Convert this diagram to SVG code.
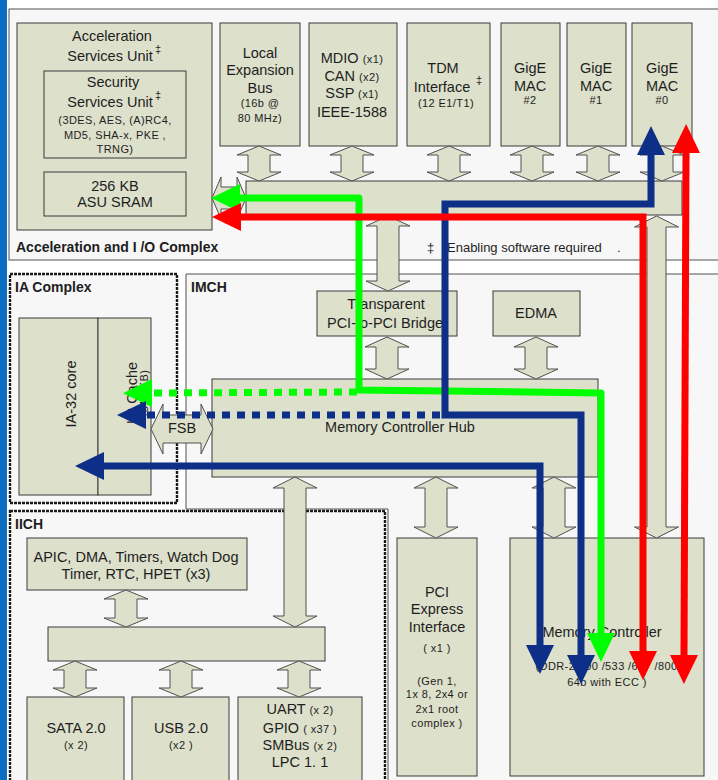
<svg xmlns="http://www.w3.org/2000/svg" width="718" height="780" viewBox="0 0 718 780">
<style>
.cont{fill:#f7f7f7;stroke:#505050;stroke-width:1}
.dotb{fill:#f7f7f7;stroke:#1a1a1a;stroke-width:2.4;stroke-dasharray:3 1}
.box{fill:#dde0cb;stroke:#3a3a3a;stroke-width:1}
.arr{fill:#dde0cb;stroke:#505050;stroke-width:1}
text{font-family:"Liberation Sans",Arial,sans-serif;fill:#1e1e1e;text-anchor:middle}
.m{font-size:14.5px}
.s{font-size:11px;letter-spacing:0.4px}
.b{font-weight:bold;font-size:14px;text-anchor:start}
.l{text-anchor:start}
.g{fill:none;stroke:#00ff00;stroke-width:7}
.n{fill:none;stroke:#0e2f87;stroke-width:7}
.r{fill:none;stroke:#ff0000;stroke-width:7}
</style>
<defs>
<marker id="hg" markerUnits="userSpaceOnUse" viewBox="0 -15 30 30" refX="0" refY="0" markerWidth="30" markerHeight="30" orient="auto-start-reverse"><path d="M0,-14 L29,0 L0,14 Z" fill="#00ff00"/></marker>
<marker id="hn" markerUnits="userSpaceOnUse" viewBox="0 -15 30 30" refX="0" refY="0" markerWidth="30" markerHeight="30" orient="auto-start-reverse"><path d="M0,-14 L29,0 L0,14 Z" fill="#0e2f87"/></marker>
<marker id="hr" markerUnits="userSpaceOnUse" viewBox="0 -15 30 30" refX="0" refY="0" markerWidth="30" markerHeight="30" orient="auto-start-reverse"><path d="M0,-14 L29,0 L0,14 Z" fill="#ff0000"/></marker>
</defs>
<rect x="0" y="0" width="718" height="780" fill="#ffffff"/>
<rect x="0" y="0" width="7" height="780" fill="#0b6dbf"/>

<g id="aio-complex">
<rect class="cont" x="9" y="9" width="720" height="251"/>
<text class="b" x="16" y="252">Acceleration and I /O Complex</text>
<text class="l" x="427" y="252" style="font-size:13px">‡</text>
<text class="l" x="447" y="252" style="font-size:13px">Enabling software required</text>
<text class="l" x="617" y="252" style="font-size:13px">.</text>
</g>
<g id="imch">
<path class="cont" d="M186,274 H720 V784 H388 V509 H186 Z"/>
<text class="b" x="191" y="292">IMCH</text>
</g>
<g id="ia-complex">
<rect class="dotb" x="10" y="274" width="167" height="229"/>
<text class="b" x="15" y="292">IA Complex</text>
</g>
<g id="iich">
<rect class="dotb" x="10" y="511" width="375" height="280"/>
<text class="b" x="15" y="529">IICH</text>
</g>

<g id="asu">
<rect class="box" x="17" y="23" width="195" height="207"/>
<text class="m" x="112" y="41">Acceleration</text>
<text class="m" x="110" y="61">Services Unit</text>
<text class="s l" x="155" y="53">‡</text>
</g>
<g id="ssu">
<rect class="box" x="44" y="71" width="142" height="87"/>
<text class="m" x="113" y="87">Security</text>
<text class="m" x="110" y="107">Services Unit</text>
<text class="s l" x="155" y="99">‡</text>
<text class="s" x="115" y="124">(3DES, AES, (A)RC4,</text>
<text class="s" x="115" y="139">MD5, SHA-x, PKE ,</text>
<text class="s" x="115" y="153">TRNG)</text>
</g>
<g id="asu-sram">
<rect class="box" x="44" y="172" width="142" height="44"/>
<text class="m" x="115" y="191">256  KB</text>
<text class="m" x="115" y="207">ASU SRAM</text>
</g>

<g id="local-bus">
<rect class="box" x="220" y="23" width="80" height="123"/>
<text class="m" x="260" y="58">Local</text>
<text class="m" x="260" y="75">Expansion</text>
<text class="m" x="260" y="93">Bus</text>
<text class="s" x="260" y="107">(16b @</text>
<text class="s" x="260" y="122">80 MHz)</text>
</g>
<g id="mdio">
<rect class="box" x="309" y="23" width="88" height="123"/>
<text x="352" y="63"><tspan class="m">MDIO </tspan><tspan class="s">(x1)</tspan></text>
<text x="352" y="81"><tspan class="m">CAN </tspan><tspan class="s">(x2)</tspan></text>
<text x="352" y="98"><tspan class="m">SSP </tspan><tspan class="s">(x1)</tspan></text>
<text class="m" x="352" y="117">IEEE-1588</text>
</g>
<g id="tdm">
<rect class="box" x="407" y="23" width="83" height="123"/>
<text class="m" x="443" y="73">TDM</text>
<text class="m" x="442" y="92">Interface</text>
<text class="s l" x="476" y="84">‡</text>
<text class="s" x="446" y="107">(12  E1/T1)</text>
</g>
<g id="gige2">
<rect class="box" x="501" y="23" width="59" height="123"/>
<text class="m" x="530" y="73">GigE</text>
<text class="m" x="530" y="91">MAC</text>
<text class="s" x="530" y="104">#2</text>
</g>
<g id="gige1">
<rect class="box" x="567" y="23" width="59" height="123"/>
<text class="m" x="596" y="73">GigE</text>
<text class="m" x="596" y="91">MAC</text>
<text class="s" x="596" y="104">#1</text>
</g>
<g id="gige0">
<rect class="box" x="632" y="23" width="60" height="123"/>
<text class="m" x="662" y="73">GigE</text>
<text class="m" x="662" y="91">MAC</text>
<text class="s" x="662" y="104">#0</text>
</g>

<g id="aio-bus">
<rect class="box" x="246" y="181" width="436" height="34"/>
</g>

<g id="ia32-core">
<rect class="box" x="19" y="318" width="79" height="177"/>
<text class="m" transform="translate(76,394) rotate(-90)" x="0" y="0">IA-32 core</text>
</g>
<g id="l2-cache">
<rect class="box" x="98" y="318" width="53" height="177"/>
<text class="m" transform="translate(137,393) rotate(-90)" x="0" y="0">L2 Cache</text>
<text class="s" transform="translate(148,393) rotate(-90)" x="0" y="0">(512 KB)</text>
</g>

<g id="p2p-bridge">
<rect class="box" x="317" y="291" width="140" height="45"/>
<text class="m" x="386" y="309">Transparent</text>
<text class="m" x="385" y="328">PCI-to-PCI Bridge</text>
</g>
<g id="edma">
<rect class="box" x="493" y="291" width="87" height="45"/>
<text class="m" x="536" y="318">EDMA</text>
</g>
<g id="mch">
<rect class="box" x="212" y="379" width="386" height="98"/>
<text class="m" x="400" y="432">Memory Controller Hub</text>
</g>
<g id="pcie">
<rect class="box" x="397" y="538" width="80" height="238"/>
<text class="m" x="437" y="597">PCI</text>
<text class="m" x="437" y="614">Express</text>
<text class="m" x="437" y="632">Interface</text>
<text class="s" x="437" y="652">( x1 )</text>
<text class="s" x="437" y="685">(Gen 1,</text>
<text class="s" x="437" y="698">1x 8,  2x4  or</text>
<text class="s" x="437" y="713">2x1  root</text>
<text class="s" x="437" y="727">complex  )</text>
</g>
<g id="mem-ctrl">
<rect class="box" x="510" y="538" width="194" height="238"/>
<text class="m" x="602" y="637">Memory Controller</text>
<text class="s" x="610" y="670">(DDR-2 400  /533 /667 /800  ,</text>
<text class="s" x="607" y="686">64b with ECC  )</text>
</g>

<g id="apic">
<rect class="box" x="27" y="538" width="220" height="52"/>
<text class="m" x="136" y="562">APIC, DMA, Timers, Watch Dog</text>
<text class="m" x="136" y="579">Timer, RTC, HPET (x3)</text>
</g>
<g id="iich-bus">
<rect class="box" x="48" y="627" width="277" height="34"/>
</g>
<g id="sata">
<rect class="box" x="27" y="697" width="97" height="90"/>
<text class="m" x="76" y="733">SATA 2.0</text>
<text class="s" x="76" y="749">(x 2)</text>
</g>
<g id="usb">
<rect class="box" x="132" y="697" width="97" height="90"/>
<text class="m" x="181" y="733">USB 2.0</text>
<text class="s" x="181" y="749">(x2 )</text>
</g>
<g id="uart">
<rect class="box" x="238" y="697" width="124" height="90"/>
<text x="300" y="714"><tspan class="m">UART </tspan><tspan class="s">(x 2)</tspan></text>
<text x="300" y="733"><tspan class="m">GPIO </tspan><tspan class="s">( x37 )</tspan></text>
<text x="300" y="750"><tspan class="m">SMBus </tspan><tspan class="s">(x 2)</tspan></text>
<text class="m" x="300" y="767">LPC 1. 1</text>
</g>

<g id="connectors">
<path class="arr" d="M259,146 L281,155 L270,155 L270,172 L281,172 L259,181 L237,172 L248,172 L248,155 L237,155 Z"/>
<path class="arr" d="M352,146 L374,155 L363,155 L363,172 L374,172 L352,181 L330,172 L341,172 L341,155 L330,155 Z"/>
<path class="arr" d="M449,146 L471,155 L460,155 L460,172 L471,172 L449,181 L427,172 L438,172 L438,155 L427,155 Z"/>
<path class="arr" d="M532,146 L554,155 L543,155 L543,172 L554,172 L532,181 L510,172 L521,172 L521,155 L510,155 Z"/>
<path class="arr" d="M598,146 L620,155 L609,155 L609,172 L620,172 L598,181 L576,172 L587,172 L587,155 L576,155 Z"/>
<path class="arr" d="M662,146 L684,155 L673,155 L673,172 L684,172 L662,181 L640,172 L651,172 L651,155 L640,155 Z"/>
<path class="arr" d="M212,198 L221,177 L221,187 L237,187 L237,177 L246,198 L237,219 L237,209 L221,209 L221,219 Z"/>
<path class="arr" d="M656.5,216 L678.5,227 L666,227 L666,527 L678.5,527 L656.5,538 L634.5,527 L647,527 L647,227 L634.5,227 Z"/>
<path class="arr" d="M388,216 L410,226 L399,226 L399,281 L410,281 L388,291 L366,281 L377,281 L377,226 L366,226 Z"/>
<path class="arr" d="M387,337 L409,347 L398,347 L398,369 L409,369 L387,379 L365,369 L376,369 L376,347 L365,347 Z"/>
<path class="arr" d="M536,337 L558,347 L547,347 L547,369 L558,369 L536,379 L514,369 L525,369 L525,347 L514,347 Z"/>
<path class="arr" d="M151,429 L163,404 L163,415 L201,415 L201,404 L213,429 L201,454 L201,443 L163,443 L163,454 Z"/>
<text class="m" x="182" y="433">FSB</text>
<path class="arr" d="M295,477 L317,488 L306,488 L306,616 L317,616 L295,627 L273,616 L284,616 L284,488 L273,488 Z"/>
<path class="arr" d="M436,477 L458,488 L447,488 L447,527 L458,527 L436,538 L414,527 L425,527 L425,488 L414,488 Z"/>
<path class="arr" d="M554,477 L576,488 L565,488 L565,527 L576,527 L554,538 L532,527 L543,527 L543,488 L532,488 Z"/>
<path class="arr" d="M126,590 L148,599 L137,599 L137,618 L148,618 L126,627 L104,618 L115,618 L115,599 L104,599 Z"/>
<path class="arr" d="M75,661 L97,670 L86,670 L86,688 L97,688 L75,697 L53,688 L64,688 L64,670 L53,670 Z"/>
<path class="arr" d="M181,661 L203,670 L192,670 L192,688 L203,688 L181,697 L159,688 L170,688 L170,670 L159,670 Z"/>
<path class="arr" d="M299,661 L321,670 L310,670 L310,688 L321,688 L299,697 L277,688 L288,688 L288,670 L277,670 Z"/>

<path class="g" d="M357,392 L152,393" stroke-dasharray="8 7" marker-end="url(#hg)"/>
<path class="g" d="M240,198 L359,198 L359,390 L601,393 L601,633" stroke-linejoin="round" marker-start="url(#hg)" marker-end="url(#hg)"/>
<path class="n" d="M440,415 L146,415" stroke-dasharray="8 7" marker-end="url(#hn)"/>
<path class="n" d="M651,155 L651,204 L445,204 L445,415 L581,415 L581,655" marker-start="url(#hn)" marker-end="url(#hn)"/>
<path class="n" d="M104,466 L540,466 L540,645" marker-start="url(#hn)" marker-end="url(#hn)"/>
<path class="r" d="M686,153 L684,655" marker-start="url(#hr)" marker-end="url(#hr)"/>
<path class="r" d="M241,217 L643,217 L643,651" marker-start="url(#hr)" marker-end="url(#hr)"/>
</g>
</svg>
